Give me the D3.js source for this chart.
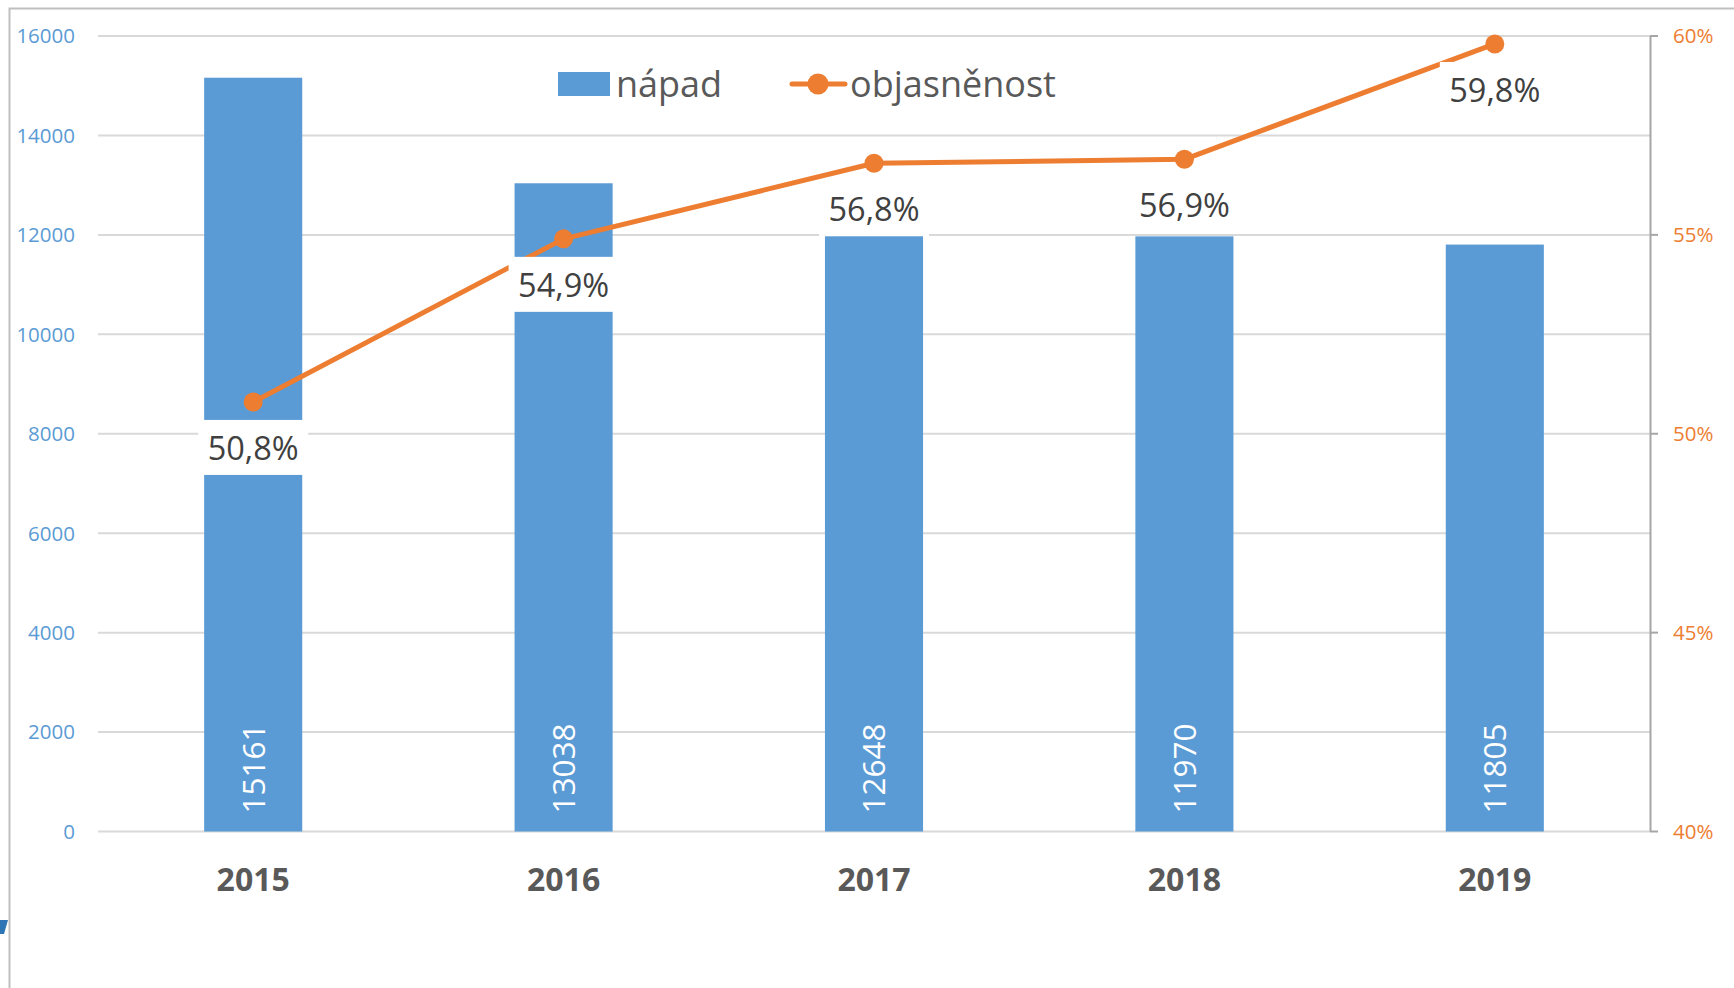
<!DOCTYPE html>
<html>
<head>
<meta charset="utf-8">
<script src="https://cdn.jsdelivr.net/npm/d3@7/dist/d3.min.js"></script>
<style>
body { margin: 0; background: #fff; }
svg text { font-family: "Open Sans", sans-serif; }
</style>
</head>
<body>
<svg id="chart" width="1734" height="988"></svg>
<script>
// data
const years = ["2015", "2016", "2017", "2018", "2019"];
const napad = [15161, 13038, 12648, 11970, 11805];
const objasnenost = [50.8, 54.9, 56.8, 56.9, 59.8];
const leftTicks = [0, 2000, 4000, 6000, 8000, 10000, 12000, 14000, 16000];
const rightTicks = [40, 45, 50, 55, 60];
const legendNames = ["nápad", "objasněnost"];

const blue = "#5b9bd5", orange = "#ed7d31", grid = "#d9d9d9";

var svg = d3.select("#chart");
const plotLeft = 98, plotRight = 1650, plotTop = 36, plotBottom = 831.5;

// frame
svg.append("path")
    .attr("d", "M9.5,1000 V8.5 H1740")
    .attr("fill", "none")
    .attr("stroke", "#bfbfbf")
    .attr("stroke-width", 2);
svg.append("path")
    .attr("d", "M0,920 H8 L4,934 H0 Z")
    .attr("fill", "#2e75b6");

var x = d3.scaleBand()
    .domain(years)
    .range([plotLeft, plotRight])
    .paddingInner(0.684)
    .paddingOuter(0.342);

var y = d3.scaleLinear().domain([0, 16000]).range([plotBottom, plotTop]);
var y2 = d3.scaleLinear().domain([40, 60]).range([plotBottom, plotTop]);

// gridlines
svg.append("g").selectAll("line")
    .data(leftTicks)
    .join("line")
    .attr("x1", plotLeft).attr("x2", plotRight)
    .attr("y1", d => y(d)).attr("y2", d => y(d))
    .attr("stroke", grid)
    .attr("stroke-width", 2);

// left axis labels
svg.append("g").selectAll("text")
    .data(leftTicks)
    .join("text")
    .attr("x", 75)
    .attr("y", d => y(d))
    .attr("dy", "0.36em")
    .attr("text-anchor", "end")
    .attr("fill", blue)
    .style("font-size", "20.5px")
    .text(d => d);

// right axis
var rAxis = svg.append("g");
rAxis.append("line")
    .attr("x1", plotRight + 0.5).attr("x2", plotRight + 0.5)
    .attr("y1", plotTop).attr("y2", plotBottom)
    .attr("stroke", "#a6a6a6").attr("stroke-width", 2);
rAxis.selectAll(".tk")
    .data(rightTicks)
    .join("line")
    .attr("class", "tk")
    .attr("x1", plotRight).attr("x2", plotRight + 8)
    .attr("y1", d => y2(d)).attr("y2", d => y2(d))
    .attr("stroke", "#a6a6a6").attr("stroke-width", 2);
rAxis.selectAll("text")
    .data(rightTicks)
    .join("text")
    .attr("x", 1673)
    .attr("y", d => y2(d))
    .attr("dy", "0.36em")
    .attr("fill", orange)
    .style("font-size", "20.5px")
    .text(d => d + "%");

// bars
svg.append("g").selectAll("rect")
    .data(napad)
    .join("rect")
    .attr("x", (d, i) => x(years[i]))
    .attr("width", x.bandwidth())
    .attr("y", d => y(d))
    .attr("height", d => plotBottom - y(d))
    .attr("fill", blue);

// bar value labels
svg.append("g").selectAll("text")
    .data(napad)
    .join("text")
    .attr("transform", (d, i) => "translate(" + (x(years[i]) + x.bandwidth() / 2) + "," + (plotBottom - 18) + ") rotate(-90)")
    .attr("dy", "0.36em")
    .attr("fill", "#fff")
    .style("font-size", "31.5px")
    .text(d => d);

// category labels
svg.append("g").selectAll("text")
    .data(years)
    .join("text")
    .attr("x", d => x(d) + x.bandwidth() / 2)
    .attr("y", 879)
    .attr("dy", "0.36em")
    .attr("text-anchor", "middle")
    .attr("fill", "#595959")
    .style("font-size", "32px")
    .style("font-weight", "bold")
    .text(d => d);

// line
var line = d3.line()
    .x((d, i) => x(years[i]) + x.bandwidth() / 2)
    .y(d => y2(d));

svg.append("path")
    .datum(objasnenost)
    .attr("d", line)
    .attr("fill", "none")
    .attr("stroke", orange)
    .attr("stroke-width", 5)
    .attr("stroke-linejoin", "round");

svg.append("g").selectAll("circle")
    .data(objasnenost)
    .join("circle")
    .attr("cx", (d, i) => x(years[i]) + x.bandwidth() / 2)
    .attr("cy", d => y2(d))
    .attr("r", 9.5)
    .attr("fill", orange);

// percent labels with white boxes
var fmt = d => d3.format(".1f")(d).replace(".", ",") + "%";
var lab = svg.append("g").selectAll("g")
    .data(objasnenost)
    .join("g")
    .attr("transform", (d, i) => "translate(" + (x(years[i]) + x.bandwidth() / 2) + "," + (y2(d) + 46) + ")");
lab.append("rect")
    .attr("x", -55).attr("y", -28)
    .attr("width", 110).attr("height", 55)
    .attr("fill", "#fff");
lab.append("text")
    .attr("text-anchor", "middle")
    .attr("dy", "0.36em")
    .attr("fill", "#404040")
    .style("font-size", "32.5px")
    .text(fmt);

// legend
var leg = svg.append("g");
leg.append("rect")
    .attr("x", 558).attr("y", 72)
    .attr("width", 52).attr("height", 24)
    .attr("fill", blue);
leg.append("text")
    .attr("x", 616).attr("y", 97)
    .attr("fill", "#595959")
    .style("font-size", "36px")
    .text(legendNames[0]);
leg.append("line")
    .attr("x1", 792).attr("x2", 845)
    .attr("y1", 84).attr("y2", 84)
    .attr("stroke", orange).attr("stroke-width", 5)
    .attr("stroke-linecap", "round");
leg.append("circle")
    .attr("cx", 818).attr("cy", 84).attr("r", 10.5)
    .attr("fill", orange);
leg.append("text")
    .attr("x", 850).attr("y", 97)
    .attr("fill", "#595959")
    .style("font-size", "36px")
    .text(legendNames[1]);
</script>
</body>
</html>
